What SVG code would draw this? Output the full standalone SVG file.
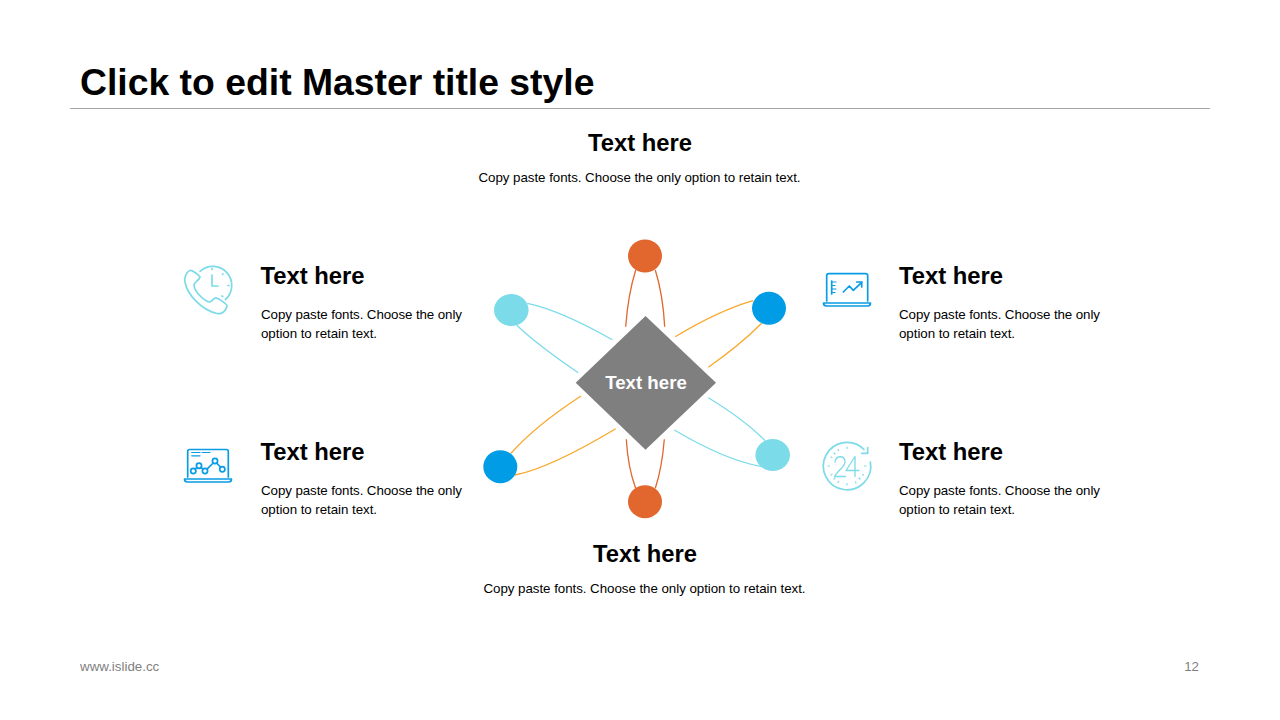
<svg xmlns="http://www.w3.org/2000/svg" width="1280" height="720" viewBox="0 0 1280 720">
<style>
text{font-family:"Liberation Sans",Arial,sans-serif;fill:#000}
.h{font-size:23.8px;font-weight:700}
.b{font-size:13.33px}
.m{text-anchor:middle}
.foot{font-size:13.33px;fill:#7f7f7f}
.arc{fill:none;stroke-width:1.3}
.or{stroke:#e1672f}.ye{stroke:#f9a72b}.lb{stroke:#7cdbe9}
.i{fill:none;stroke-width:1.7;stroke-linecap:round;stroke-linejoin:round}
.il{stroke:#7cdbe9}.id{stroke:#0a9ce5}
</style>
<rect width="1280" height="720" fill="#fff"/>
<g id="header">
<text x="80" y="95" font-size="37.33" font-weight="700">Click to edit Master title style</text>
<line x1="70" y1="108.500" x2="1210" y2="108.500" stroke="#a6a6a6" stroke-width="1"/>
</g>
<g id="connectors">
<path class="arc or" d="M635.700 270Q628 295 625.700 326.700"/>
<path class="arc or" d="M655.300 270Q663 295 664.700 326.700"/>
<path class="arc or" d="M626.300 439.300Q628 468 635.700 488.300"/>
<path class="arc or" d="M664.300 439.300Q662 468 655.300 488.300"/>
<path class="arc ye" d="M753.300 300.700Q720 310 675.300 336.700"/>
<path class="arc ye" d="M761.700 323.300Q740 345 708.300 367.300"/>
<path class="arc ye" d="M511 453.300Q535 426 581 396"/>
<path class="arc ye" d="M515 475Q550 468 615.700 428.700"/>
<path class="arc lb" d="M527.300 303.300Q560 310 612.300 339.700"/>
<path class="arc lb" d="M516.700 325.300Q540 347 578.300 372.700"/>
<path class="arc lb" d="M765 440.700Q745 420 708.300 397.700"/>
<path class="arc lb" d="M761.700 466.700Q725 460 674.300 430"/>
</g>
<g id="hub">
<polygon points="645.500,316 716,382.700 645.500,449.700 575.700,382.700" fill="#7f7f7f"/>
<text x="646" y="389" class="m" font-size="18.670" font-weight="700" style="fill:#fff">Text here</text>
</g>
<g id="dot-top"><ellipse cx="645" cy="256" rx="17" ry="16.500" fill="#e1672f"/></g>
<g id="dot-bottom"><ellipse cx="645" cy="501.700" rx="17" ry="16.500" fill="#e1672f"/></g>
<g id="dot-top-right"><ellipse cx="769" cy="308.300" rx="17" ry="16.500" fill="#009ce5"/></g>
<g id="dot-bottom-left"><ellipse cx="500.300" cy="466.700" rx="17" ry="16.500" fill="#009ce5"/></g>
<g id="dot-top-left"><ellipse cx="511.300" cy="310" rx="17.300" ry="16" fill="#7cdbe9"/></g>
<g id="dot-bottom-right"><ellipse cx="772.700" cy="455" rx="17.300" ry="16" fill="#7cdbe9"/></g>
<g id="block-top">
<text x="640" y="151" class="h m">Text here</text>
<text x="639.500" y="182" class="b m" textLength="322">Copy paste fonts. Choose the only option to retain text.</text>
</g>
<g id="block-bottom">
<text x="645" y="562" class="h m">Text here</text>
<text x="644.500" y="593" class="b m" textLength="322">Copy paste fonts. Choose the only option to retain text.</text>
</g>
<g id="block-top-left">
<g class="i il">
<path d="M200 271.300A19 19 0 0 1 225.500 299.500"/>
<path d="M212 275V286H218"/>
<path d="M212 268.500V269.500M228 285.500H229M223 274L222.500 274.500M222.700 296.500L222 296"/>
<path d="M190 270.500C186 272 184 278 185 282C187 294 201 310 217 313.500C222 314.500 226 311 227 306C227 304 217 297 215 298C213 299 212 302 209 302C203 300 194 291 194 285C194 282 199 281 200 277C199 275 192 270 190 270.500Z"/>
</g>
<text x="260.500" y="284" class="h">Text here</text>
<text x="261" y="319" class="b" textLength="201">Copy paste fonts. Choose the only</text>
<text x="261" y="338" class="b" textLength="116">option to retain text.</text>
</g>
<g id="block-top-right">
<g class="i id">
<path d="M826.700 301V275.700A2 2 0 0 1 828.700 273.700H865.700A2 2 0 0 1 867.700 275.700V301"/>
<path d="M823.500 303H870.500Q870.500 306 867.500 306H826.500Q823.500 306 823.500 303Z"/>
<path d="M831.700 281V294"/>
<path d="M831.700 282H836M831.700 285.500H835M831.700 289H836M831.700 292.500H835" stroke-width="1.200"/>
<path d="M843.300 292L849.300 286L853.300 290.300L861.700 282.300"/>
<path d="M856.700 282H861.700V287"/>
</g>
<text x="899" y="284" class="h">Text here</text>
<text x="899" y="319" class="b" textLength="201">Copy paste fonts. Choose the only</text>
<text x="899" y="338" class="b" textLength="116">option to retain text.</text>
</g>
<g id="block-bottom-left">
<g class="i id">
<path d="M187.700 477V451.500A2 2 0 0 1 189.700 449.500H226.300A2 2 0 0 1 228.300 451.500V477"/>
<path d="M184.500 479H231.500Q231.500 482 228.500 482H187.500Q184.500 482 184.500 479Z"/>
<path d="M191.700 452.500H200M202 452.500H210M191.700 455.800H200" stroke-width="1.200"/>
<circle cx="193.300" cy="471" r="2.600"/><circle cx="199" cy="465.700" r="2.600"/><circle cx="205" cy="471" r="2.600"/><circle cx="215" cy="461" r="2.600"/><circle cx="222.300" cy="469.300" r="2.600"/>
<path d="M195.200 469.200L197 467.500M201 467.500L203 469.200M207 469.200L213.200 463M216.700 463L220.600 467.300"/>
</g>
<text x="260.500" y="460" class="h">Text here</text>
<text x="261" y="495" class="b" textLength="201">Copy paste fonts. Choose the only</text>
<text x="261" y="514" class="b" textLength="116">option to retain text.</text>
</g>
<g id="block-bottom-right">
<g class="i il">
<path d="M864 449.500A23.700 23.700 0 1 0 870.400 462"/>
<path d="M861.700 453.300H867.700V447.700"/>
<path d="M847 447V448.500M847 483.500V485M828 466H829.500M864.500 466H866M834 453L835 454M859 478L860 479M834 479L835 478M838 449.500L838.500 450.500M855.500 482L856 483M831 457L832 457.500M831 475L832 474.500M862.500 474.500L863.500 475M838 482.500L838.500 481.500" stroke-width="1.200"/>
<path d="M835 462C836 455 845 455 845 462C845 467 838 470 834.500 476.500H845.500" stroke-width="1.300"/>
<path d="M855 476.500V456.500L846 470.500H859" stroke-width="1.300"/>
</g>
<text x="899" y="460" class="h">Text here</text>
<text x="899" y="495" class="b" textLength="201">Copy paste fonts. Choose the only</text>
<text x="899" y="514" class="b" textLength="116">option to retain text.</text>
</g>
<g id="footer">
<text x="80" y="671" class="foot">www.islide.cc</text>
<text x="1199" y="671" class="foot" text-anchor="end">12</text>
</g>
</svg>
